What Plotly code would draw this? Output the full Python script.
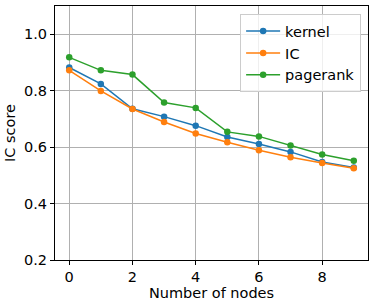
import plotly.graph_objects as go

nodes = [0, 1, 2, 3, 4, 5, 6, 7, 8, 9]
kernel = [0.882, 0.824, 0.736, 0.708, 0.676, 0.636, 0.611, 0.583, 0.547, 0.528]
ic = [0.872, 0.799, 0.735, 0.689, 0.648, 0.617, 0.589, 0.564, 0.544, 0.525]
pagerank = [0.918, 0.872, 0.857, 0.758, 0.739, 0.654, 0.638, 0.606, 0.574, 0.552]

series = [("kernel", kernel, "#1f77b4"), ("IC", ic, "#ff7f0e"), ("pagerank", pagerank, "#2ca02c")]

fig = go.Figure()
for name, vals, color in series:
    fig.add_trace(go.Scatter(x=nodes, y=vals, name=name, mode="lines+markers",
                             line=dict(color=color, width=1.5),
                             marker=dict(color=color, size=6.5)))

font = "DejaVu Sans"
fig.update_layout(
    width=374, height=306,
    margin=dict(l=55, r=6, t=6, b=46, autoexpand=False),
    paper_bgcolor="white", plot_bgcolor="white",
    font=dict(family=font, size=14.5, color="black"),
    showlegend=True,
    legend=dict(x=0.978, y=0.968, xanchor="right", yanchor="top",
                bgcolor="rgba(255,255,255,0.8)", bordercolor="#cccccc", borderwidth=1,
                font=dict(size=14.5), itemwidth=34, tracegroupgap=0),
    xaxis=dict(range=[-0.45, 9.45], tickvals=[0, 2, 4, 6, 8], showgrid=True,
               gridcolor="#b0b0b0", gridwidth=0.8, zeroline=False,
               showline=True, linecolor="black", linewidth=1, mirror=True,
               ticks="outside", ticklen=4, tickcolor="black", automargin=False,
               title=dict(text="Number of nodes", font=dict(size=14.5), standoff=2)),
    yaxis=dict(range=[0.2, 1.1], tickvals=[0.2, 0.4, 0.6, 0.8, 1.0], tickformat=".1f",
               showgrid=True, gridcolor="#b0b0b0", gridwidth=0.8, zeroline=False,
               showline=True, linecolor="black", linewidth=1, mirror=True,
               ticks="outside", ticklen=4, tickcolor="black", automargin=False,
               title=dict(text="IC score", font=dict(size=14.5), standoff=4)),
)
fig.write_html("out.html", config={"displayModeBar": False},
               post_script="document.body.style.margin='0';")
